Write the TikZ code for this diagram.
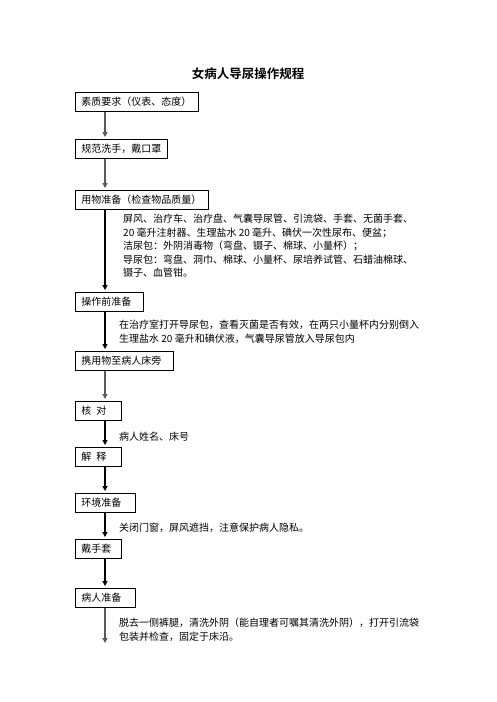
\documentclass[tikz,border=0pt]{standalone}
\usepackage{fontspec}
\setmainfont{Noto Sans CJK SC}[BoldFont={Noto Sans CJK SC Bold}]
\usetikzlibrary{arrows.meta}
\tikzset{
  stepbox/.style={draw, line width=0.8pt, anchor=north west, inner xsep=6pt, inner ysep=0pt,
    minimum height=19pt, align=left, font=\fontsize{10}{12}\selectfont},
  note/.style={anchor=north west, inner sep=0pt, align=left, font=\fontsize{10}{13.5}\selectfont},
  flow/.style={line width=1.2pt, -{Triangle[width=5pt,length=5pt]}, shorten >=2pt},
  flowgray/.style={flow, draw=gray!70!black, fill=gray!70!black},
}
\begin{document}
\begin{tikzpicture}[x=1pt,y=-1pt]
    \useasboundingbox (0,0) rectangle (496,702);
    \node[font=\bfseries\fontsize{12.5}{14}\selectfont] (title) at (248,74) {女病人导尿操作规程};
    % steps down the left side
    \foreach \name/\y/\w/\txt in {b1/92/111/素质要求（仪表、态度）,b2/139/80/规范洗手，戴口罩,
        b3/190/121/用物准备（检查物品质量）,b4/292/56/操作前准备,b5/351/86/携用物至病人床旁,
        b6/401/34/核\hspace{5pt}对,b7/447/34/解\hspace{5pt}释,b8/493/48/环境准备,
        b9/539/34/戴手套,b10/588/48/病人准备}{
        \node[stepbox, text width=\w pt] (\name) at (75,\y) {\txt};
    }
    \coordinate (fin) at (105,645);
    \foreach \a/\b/\c in {b1/b2/flowgray,b2/b3/flowgray,b3/b4/flow,b4/b5/flow,b5/b6/flowgray,
        b6/b7/flow,b7/b8/flow,b8/b9/flow,b9/b10/flow}{
        \draw[\c]([xshift=30pt]\a.south west)--([xshift=30pt]\b.north west);
    }
    \draw[flowgray]([xshift=30pt]b10.south west)--(fin);
    % notes beside the arrows
    \node[note] (n3) at (123,214) {屏风、治疗车、治疗盘、气囊导尿管、引流袋、手套、无菌手套、\\
        20 毫升注射器、生理盐水 20 毫升、碘伏一次性尿布、便盆；\\
        洁尿包：外阴消毒物（弯盘、镊子、棉球、小量杯）；\\
        导尿包：弯盘、洞巾、棉球、小量杯、尿培养试管、石蜡油棉球、\\
        镊子、血管钳。};
    \node[note] (n4) at (119,320) {在治疗室打开导尿包，查看灭菌是否有效，在两只小量杯内分别倒入\\
        生理盐水 20 毫升和碘伏液，气囊导尿管放入导尿包内};
    \node[note] (n6) at (119,432) {病人姓名、床号};
    \node[note] (n8) at (119,523) {关闭门窗，屏风遮挡，注意保护病人隐私。};
    \node[note] (n10) at (119,618) {脱去一侧裤腿，清洗外阴（能自理者可嘱其清洗外阴），打开引流袋\\
        包装并检查，固定于床沿。};
\end{tikzpicture}
\end{document}
